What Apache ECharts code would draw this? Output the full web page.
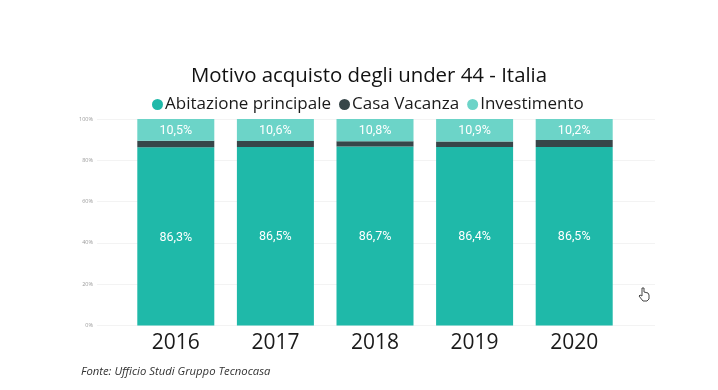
<!DOCTYPE html>
<html><head><meta charset="utf-8">
<style>html,body{margin:0;padding:0;background:#fff}#c{width:718px;height:390px}</style>
<script src="https://cdn.jsdelivr.net/npm/echarts@6/dist/echarts.min.js"></script>
</head><body><div id="c"></div>
<script>
const years = ['2016','2017','2018','2019','2020'];
const abitazione = [86.3,86.5,86.7,86.4,86.5];
const vacanza = [3.2,2.9,2.5,2.7,3.3];
const investimento = [10.5,10.6,10.8,10.9,10.2];
const titleText = 'Motivo acquisto degli under 44 - Italia';
const sourceText = 'Fonte: Ufficio Studi Gruppo Tecnocasa';
const font = '"Open Sans"';
const fmt = p => p.value.toFixed(1).replace('.', ',') + '%';
const chart = echarts.init(document.getElementById('c'), null, {renderer:'canvas'});
const lab = {show:true, position:'inside', offset:[0,1], color:'#fff', fontFamily:'Roboto', fontWeight:'normal', fontSize:12.5, formatter:fmt};
chart.setOption({
  animation:false,
  backgroundColor:'#fff',
  title:{text:titleText, left:191, top:66, padding:0, itemGap:0,
    textStyle:{fontFamily:font, fontWeight:'normal', fontSize:20.4, color:'#111'}},
  legend:{left:152, top:96, padding:0, itemWidth:11, itemHeight:11, itemGap:8, icon:'circle',
    selectedMode:false,
    textStyle:{fontFamily:font, fontSize:17, color:'#1a1a1a', padding:[0,0,0,-3]},
    data:['Abitazione principale','Casa Vacanza','Investimento']},
  grid:[
    {left:126, top:119, width:498, height:206.5},
    {left:97, top:119, width:558, height:206.5}
  ],
  xAxis:[
    {type:'category', gridIndex:0, data:years, axisLine:{show:false}, axisTick:{show:false},
     axisLabel:{fontFamily:font, fontSize:21, color:'#1a1a1a', margin:7}},
    {type:'category', gridIndex:1, data:[], show:false}
  ],
  yAxis:[
    {type:'value', gridIndex:0, min:0, max:100, show:false, splitLine:{show:false}},
    {type:'value', gridIndex:1, min:0, max:100, interval:20, z:0,
     axisLine:{show:false}, axisTick:{show:false},
     axisLabel:{fontFamily:font, fontSize:5.5, color:'#9a9a9a', margin:4, formatter:'{value}%'},
     splitLine:{lineStyle:{color:'#f3f3f3', width:1}}}
  ],
  series:[
    {name:'Abitazione principale', type:'bar', stack:'a', barWidth:77, data:abitazione, itemStyle:{color:'#1fb9a9'}, label:lab, z:3},
    {name:'Casa Vacanza', type:'bar', stack:'a', barWidth:77, data:vacanza, itemStyle:{color:'#374649'}, z:3},
    {name:'Investimento', type:'bar', stack:'a', barWidth:77, data:investimento, itemStyle:{color:'#6cd4c8'}, label:lab, z:3}
  ],
  graphic:[
    {type:'text', x:81, y:366, style:{text:sourceText, fontFamily:font, fontStyle:'italic', fontSize:11.3, fill:'#333'}},
    {type:'polygon', shape:{points:[[642,288],[644,288],[644,292],[648,293],[649,295],[649,299],[647,301],[643,301],[639,296],[640,295],[642,296]]},
     style:{fill:'#fff', stroke:'#444', lineWidth:1}}
  ]
});
</script></body></html>
